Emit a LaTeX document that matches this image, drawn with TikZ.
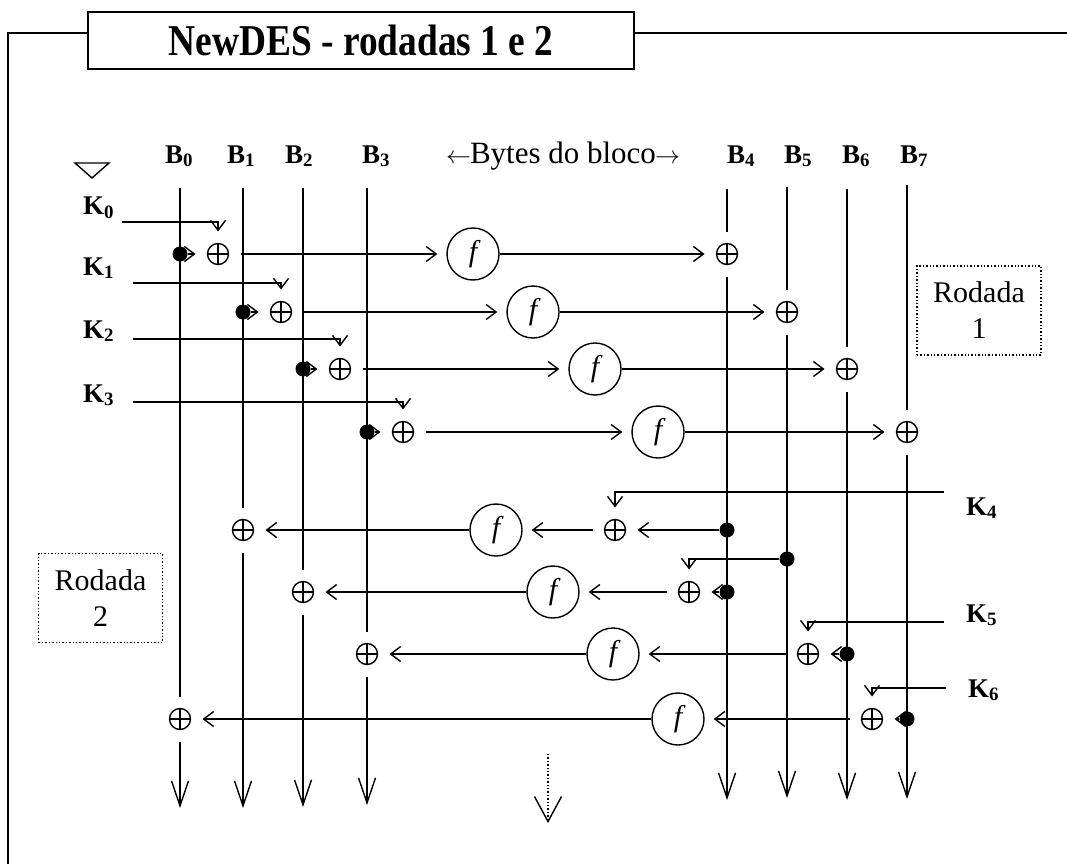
\documentclass[tikz,border=0pt]{standalone}
\usepackage{fontspec}
\setmainfont{Liberation Serif}
\usetikzlibrary{arrows.meta}
\begin{document}
\begin{tikzpicture}[x=1pt,y=-1pt,
  ln/.style={line width=1.4pt},
  sa/.style={ln,-{Straight Barb[length=10pt,width=15pt]}},
  ba/.style={ln,-{Straight Barb[length=25pt,width=17pt]}},
  xo/.style={circle,draw,ln,minimum size=21pt,inner sep=0pt,outer sep=12pt,
    path picture={\draw[ln] (path picture bounding box.north)--(path picture bounding box.south)
      (path picture bounding box.west)--(path picture bounding box.east);}},
  fn/.style={circle,draw,ln,minimum size=52pt,inner sep=0pt,font=\fontsize{30}{30}\selectfont\itshape},
  dt/.style={circle,fill,minimum size=15pt,inner sep=0pt},
  lab/.style={font=\fontsize{27}{27}\selectfont\bfseries,inner sep=0pt},
  rb/.style={draw,dotted,ln,minimum width=124pt,minimum height=89pt,align=center,
    font=\fontsize{30}{36}\selectfont,inner sep=0pt}]
\useasboundingbox (0,0) rectangle (1067,864);

% frame and title
\node[draw,line width=1.5pt,minimum width=546pt,minimum height=57pt,inner sep=0pt] (title) at (361,40.5)
  {\scalebox{0.85}[1]{\fontsize{44}{44}\selectfont\bfseries NewDES - rodadas 1 e 2}};
\coordinate (fa) at (88,33);
\coordinate (fb) at (8,33);
\coordinate (fc) at (8,864);
\coordinate (fd) at (634,33);
\coordinate (fe) at (1067,33);
\draw[ln] (fa) -- (fb) -- (fc);
\draw[ln] (fd) -- (fe);

% triangle
\draw[ln] (75,163) -- (109,163) -- (92,178) -- cycle;

% column labels
\node[lab,anchor=base] (lB0) at (179,163) {B\textsubscript{0}};
\node[lab,anchor=base] (lB1) at (241,163) {B\textsubscript{1}};
\node[lab,anchor=base] (lB2) at (299,163) {B\textsubscript{2}};
\node[lab,anchor=base] (lB3) at (376,163) {B\textsubscript{3}};
\node[lab,anchor=base] (lB4) at (741,163) {B\textsubscript{4}};
\node[lab,anchor=base] (lB5) at (798,163) {B\textsubscript{5}};
\node[lab,anchor=base] (lB6) at (856,163) {B\textsubscript{6}};
\node[lab,anchor=base] (lB7) at (914,163) {B\textsubscript{7}};
\node[anchor=base,inner sep=0pt,font=\fontsize{31}{31}\selectfont] (bytes) at (563,163)
  {$\leftarrow$\kern-1pt Bytes do bloco\kern-1pt$\rightarrow$};

% key labels
\node[lab,anchor=base west] (lK0) at (83,214) {K\textsubscript{0}};
\node[lab,anchor=base west] (lK1) at (83,275) {K\textsubscript{1}};
\node[lab,anchor=base west] (lK2) at (83,338) {K\textsubscript{2}};
\node[lab,anchor=base west] (lK3) at (83,402) {K\textsubscript{3}};
\node[lab,anchor=base west] (lK4) at (966,515) {K\textsubscript{4}};
\node[lab,anchor=base west] (lK5) at (966,622) {K\textsubscript{5}};
\node[lab,anchor=base west] (lK6) at (968,697) {K\textsubscript{6}};

% column ends
\coordinate (t0) at (180,188); \coordinate (b0) at (180,808);
\coordinate (t1) at (243,188); \coordinate (b1) at (243,808);
\coordinate (t2) at (303,188); \coordinate (b2) at (303,807);
\coordinate (t3) at (367,188); \coordinate (b3) at (367,805);
\coordinate (t4) at (727,189); \coordinate (b4) at (727,800);
\coordinate (t5) at (787,187); \coordinate (b5) at (787,798);
\coordinate (t6) at (847,189); \coordinate (b6) at (847,800);
\coordinate (t7) at (907,185); \coordinate (b7) at (907,799);

% round 1 nodes
\node[xo] (a10) at (218,254) {};
\node[xo] (a11) at (281,312) {};
\node[xo] (a12) at (340,369) {};
\node[xo] (a13) at (403,432) {};
\node[fn] (f10) at (473,254) {f};
\node[fn] (f11) at (533,312) {f};
\node[fn] (f12) at (595,369) {f};
\node[fn] (f13) at (658,432) {f};
\node[xo] (c10) at (727,254) {};
\node[xo] (c11) at (787,312) {};
\node[xo] (c12) at (847,369) {};
\node[xo] (c13) at (907,432) {};
\coordinate (k0s) at (122,222);
\coordinate (k1s) at (133,283);
\coordinate (k2s) at (133,339);
\coordinate (k3s) at (133,402);

% round 2 nodes
\node[xo] (a20) at (615,530) {};
\node[xo] (a21) at (689,592) {};
\node[xo] (a22) at (808,654) {};
\node[xo] (a23) at (872,719) {};
\node[fn] (f20) at (496,530) {f};
\node[fn] (f21) at (553,592) {f};
\node[fn] (f22) at (613,654) {f};
\node[fn] (f23) at (678,719) {f};
\node[xo] (c20) at (243,530) {};
\node[xo] (c21) at (303,592) {};
\node[xo] (c22) at (367,654) {};
\node[xo] (c23) at (180,719) {};
\coordinate (k4s) at (944,492);
\coordinate (k5s) at (944,622);
\coordinate (k6s) at (946,688);

% vertical lines
\draw[ln] (t0) -- (c23); \draw[ba] (c23) -- (b0);
\draw[ln] (t1) -- (c20); \draw[ba] (c20) -- (b1);
\draw[ln] (t2) -- (c21); \draw[ba] (c21) -- (b2);
\draw[ln] (t3) -- (c22); \draw[ba] (c22) -- (b3);
\draw[ln] (t4) -- (c10); \draw[ba] (c10) -- (b4);
\draw[ln] (t5) -- (c11); \draw[ba] (c11) -- (b5);
\draw[ln] (t6) -- (c12); \draw[ba] (c12) -- (b6);
\draw[ln] (t7) -- (c13); \draw[ba] (c13) -- (b7);

% dots
\node[dt] (d10) at (180,254) {};
\node[dt] (d11) at (243,312) {};
\node[dt] (d12) at (303,369) {};
\node[dt] (d13) at (367,432) {};
\node[dt] (d20) at (727,530) {};
\node[dt] (d21) at (727,592) {};
\node[dt] (e21) at (787,559) {};
\node[dt] (d22) at (847,654) {};
\node[dt] (d23) at (907,719) {};

% round 1 connectors
\foreach \i in {0,1,2,3}{
  \draw[sa] (d1\i) -- (a1\i);
  \draw[sa] (k\i s) -| (a1\i);
  \draw[sa,shorten >=9pt] (a1\i) -- (f1\i);
  \draw[sa] (f1\i) -- (c1\i);
}

% round 2 connectors
\draw[sa] (k4s) -| (a20);
\draw[sa] (e21) -| (a21);
\draw[sa] (k5s) -| (a22);
\draw[sa] (k6s) -| (a23);
\foreach \i in {0,1,2,3}{
  \draw[sa] (d2\i) -- (a2\i);
  \draw[sa,shorten >=9pt] (a2\i) -- (f2\i);
  \draw[sa] (f2\i) -- (c2\i);
}

% dotted arrow
\coordinate (m1) at (548,754);
\coordinate (m2) at (548,823);
\draw[ba,dotted,-{Straight Barb[length=25pt,width=27pt,line width=1.4pt]}] (m1) -- (m2);

% round boxes
\node[rb] (r1) at (979,310.5) {Rodada\\1};
\node[rb] (r2) at (100.5,598) {Rodada\\2};
\end{tikzpicture}
\end{document}
